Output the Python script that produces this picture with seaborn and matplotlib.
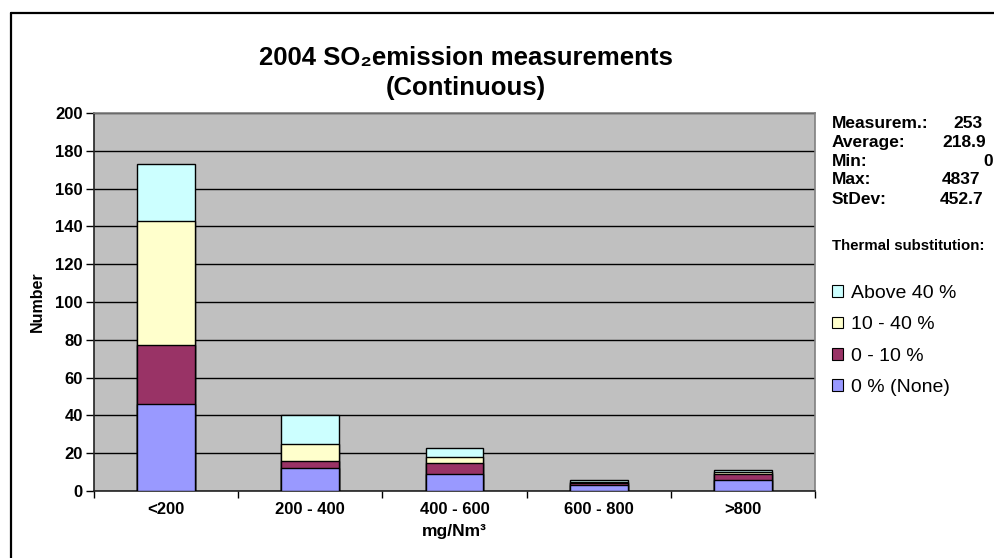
import matplotlib
matplotlib.use("Agg")
import matplotlib.pyplot as plt
from matplotlib.patches import Patch
from matplotlib.lines import Line2D
import seaborn as sns
import pandas as pd

# Data
categories = ["<200", "200 - 400", "400 - 600", "600 - 800", ">800"]
none_vals = [46, 12, 9, 3, 6]      # 0 % (None)
low_vals = [31, 4, 6, 1, 3]        # 0 - 10 %
mid_vals = [66, 9, 3, 1, 1]        # 10 - 40 %
high_vals = [30, 15, 5, 1, 1]      # Above 40 %

series_labels = ["0 % (None)", "0 - 10 %", "10 - 40 %", "Above 40 %"]
series_colors = ["#9999FF", "#993366", "#FFFFCC", "#CCFFFF"]

stat_names = ["Measurem.:", "Average:", "Min:", "Max:", "StDev:"]
stat_values = ["253", "218.9", "0", "4837", "452.7"]

sns.set_style("white")
plt.rcParams["font.family"] = ["Liberation Sans", "DejaVu Sans"]
plt.rcParams.update({"text.color": "black", "axes.labelcolor": "black",
                     "xtick.color": "black", "ytick.color": "black"})

df = pd.DataFrame({"range": categories, "none": none_vals, "low": low_vals,
                   "mid": mid_vals, "high": high_vals})
layers = ["none", "low", "mid", "high"]
for i in range(len(layers)):
    df["cum_" + layers[i]] = df[layers[:i + 1]].sum(axis=1)

W, H = 994, 558
fig = plt.figure(figsize=(W / 100, H / 100), dpi=100)
ax = fig.add_axes([94 / W, 1 - 491 / H, (815 - 94) / W, (491 - 113) / H])
ax.set_facecolor("#C0C0C0")

# stacked bars: draw the tallest cumulative layer first
for i in reversed(range(len(layers))):
    sns.barplot(data=df, x="range", y="cum_" + layers[i], order=categories,
                color=series_colors[i], saturation=1, width=0.4,
                edgecolor="black", linewidth=1, errorbar=None, ax=ax, zorder=3)

ax.set_ylim(0, 200)
ax.set_yticks(range(0, 201, 20))
ax.set_xlim(-0.5, len(categories) - 0.5)
ax.yaxis.grid(True, color="black", linewidth=1)
ax.set_axisbelow(True)
for side in ["top", "right"]:
    ax.spines[side].set_color("#808080")
    ax.spines[side].set_linewidth(1.2)
for side in ["left", "bottom"]:
    ax.spines[side].set_color("#222222")
    ax.spines[side].set_linewidth(1.2)

ax.tick_params(axis="y", direction="out", length=6, width=1, pad=2,
               labelsize=12, left=True)
ax.tick_params(axis="x", which="major", length=0, pad=8, labelsize=12)
ax.set_xticks([x - 0.5 for x in range(len(categories) + 1)], minor=True)
ax.tick_params(axis="x", which="minor", direction="out", length=5, width=1, bottom=True)
for lab in ax.get_xticklabels() + ax.get_yticklabels():
    lab.set_fontweight("bold")

ax.set_xlabel("mg/Nm³", fontsize=12.5, fontweight="bold")
ax.xaxis.set_label_coords(0.5, -0.088)
ax.set_ylabel("Number", fontsize=11.5, fontweight="bold")
ax.yaxis.set_label_coords(-0.068, 0.5)

fig.text(466 / W, 1 - 73 / H, "2004 SO₂emission measurements\n(Continuous)",
         ha="center", va="center", fontsize=18.5, fontweight="bold", linespacing=1.3)

# statistics block
stat_right = [982, 986, 993, 980, 983]
for k, (name, val) in enumerate(zip(stat_names, stat_values)):
    y = 1 - (123 + k * 19) / H
    fig.text(832 / W, y, name, ha="left", va="center", fontsize=12.5, fontweight="bold")
    fig.text(stat_right[k] / W, y, val, ha="right", va="center", fontsize=12.5,
             fontweight="bold")

fig.text(832 / W, 1 - 246 / H, "Thermal substitution:", ha="left", va="center",
         fontsize=10.8, fontweight="bold")

handles = [Patch(facecolor=series_colors[i], edgecolor="black", linewidth=0.8,
                 label=series_labels[i]) for i in reversed(range(len(layers)))]
fig.legend(handles=handles, loc="upper left", bbox_to_anchor=(832 / W, 1 - 285 / H),
           frameon=False, fontsize=14, handlelength=0.55, handleheight=0.55,
           handletextpad=0.45, labelspacing=0.74, borderpad=0, borderaxespad=0)

# outer chart border (only left and top visible)
fig.add_artist(Line2D([11 / W, 11 / W], [0, 1 - 13 / H], color="black", linewidth=1.6))
fig.add_artist(Line2D([11 / W, 1], [1 - 13 / H, 1 - 13 / H], color="black", linewidth=1.6))

fig.savefig("out.png", dpi=100)
